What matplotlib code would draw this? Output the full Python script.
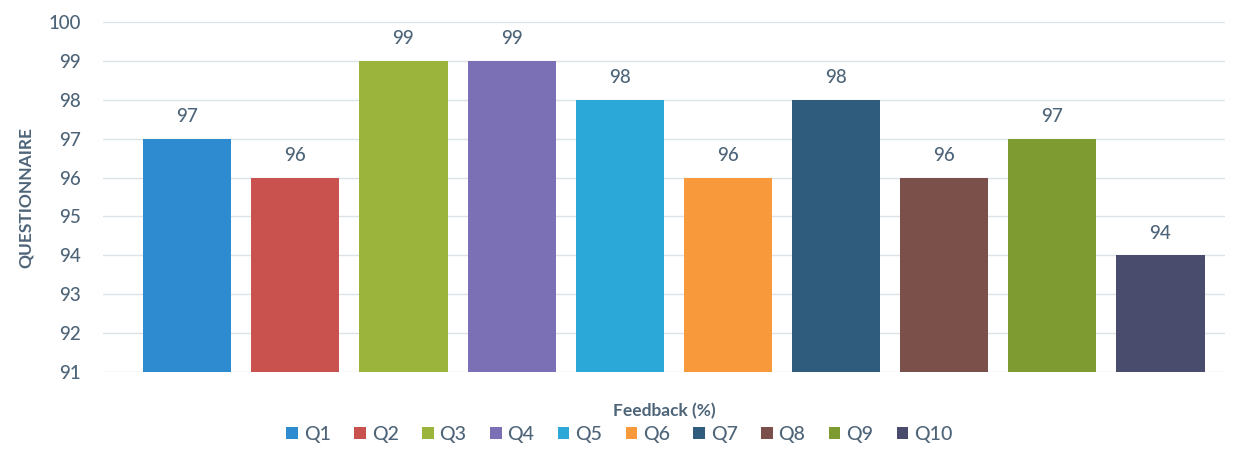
import matplotlib
matplotlib.use("Agg")
import matplotlib.pyplot as plt
from matplotlib.patches import Patch

categories = ["Q1", "Q2", "Q3", "Q4", "Q5", "Q6", "Q7", "Q8", "Q9", "Q10"]
values = [97, 96, 99, 99, 98, 96, 98, 96, 97, 94]
colors = ["#2E8BCF", "#C9524F", "#9BB53C", "#7B6FB6", "#2BA8D8",
          "#F89A3C", "#2F5B7C", "#7B4F4A", "#7E9B31", "#4A4C6E"]
yticks = [91, 92, 93, 94, 95, 96, 97, 98, 99, 100]

plt.rcParams['font.family'] = ['Lato', 'DejaVu Sans']
txt = "#4E6478"

fig = plt.figure(figsize=(12.39, 4.72), dpi=100)
ax = fig.add_axes([0.083, 0.212, 0.906, 0.741])
x = list(range(len(categories)))
ax.bar(x, [v - 91 for v in values], bottom=91, width=0.815, color=colors, zorder=3)
for xi, v in zip(x, values):
    ax.text(xi, v + 0.35, str(v), ha='center', va='bottom', fontsize=13.5,
            color=txt, fontweight='medium')

ax.set_ylim(91, 100)
ax.set_xlim(-0.78, 9.6)
ax.set_yticks(yticks)
ax.set_yticklabels([str(t) for t in yticks], fontsize=13.5, color=txt, fontweight='medium')
ax.set_xticks([])
ax.grid(axis='y', color='#DCE3E6', linewidth=1, zorder=0)
for s in ax.spines.values():
    s.set_visible(False)
ax.tick_params(axis='y', length=0, pad=16)
ax.set_ylabel("QUESTIONNAIRE", fontsize=12.5, fontweight='bold', color=txt, labelpad=10)
ax.set_xlabel("Feedback (%)", fontsize=12.5, fontweight='bold', color=txt, labelpad=22)

handles = [Patch(facecolor=c, label=l) for c, l in zip(colors, categories)]
fig.legend(handles=handles, loc='center', bbox_to_anchor=(0.50, 0.08), ncol=10,
           frameon=False, handlelength=0.6, handleheight=0.6,
           handletextpad=0.3, columnspacing=1.2, labelcolor=txt,
           prop={'size': 14, 'weight': 'medium'})

fig.savefig("out.png", dpi=100, facecolor='white')
